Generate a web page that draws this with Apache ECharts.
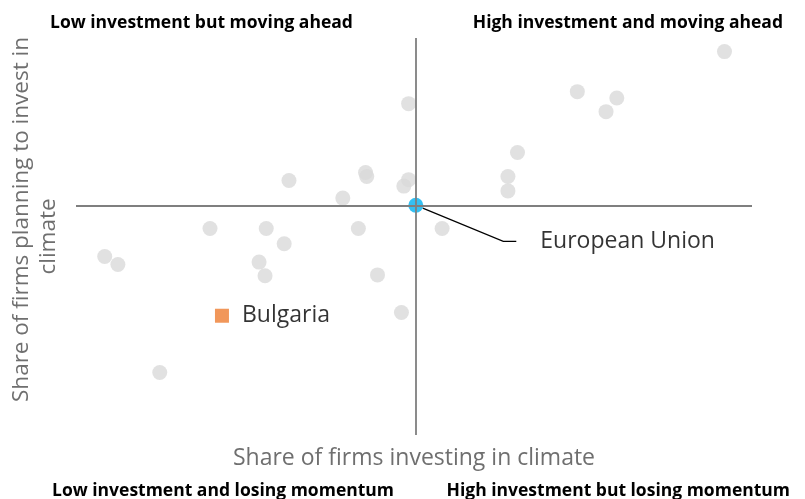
<!DOCTYPE html>
<html>
<head>
<meta charset="utf-8">
<script src="https://cdn.jsdelivr.net/npm/echarts@6/dist/echarts.min.js"></script>
<style>
html,body{margin:0;padding:0;background:#fff;}
#chart{width:805px;height:499px;}
</style>
</head>
<body>
<div id="chart"></div>
<script>
// other EU member states: share of firms investing / planning to invest in climate (%)
var othersX = [42.8, 49.2, 49.3, 52.8, 52.4, 47.3, 36.2, 40.9, 48.6, 42.4, 27.4, 28.5, 40.3,
               40.8, 50.2, 52.2, 32.0, 79.2, 66.9, 70.2, 69.3, 52.8, 61.9, 61.1, 61.1, 55.6];
var othersY = [61.8, 62.8, 62.3, 61.9, 61.1, 59.6, 55.8, 55.8, 55.8, 53.9, 52.3, 51.3, 51.6,
               49.9, 50.0, 45.3, 37.8, 77.9, 72.9, 72.1, 70.4, 71.4, 65.3, 62.3, 60.5, 55.8];
var euX = [53.4], euY = [58.7];
var bgX = [37.2], bgY = [44.9];
var euName = 'European Union', bgName = 'Bulgaria';
var xTitle = 'Share of firms investing in climate';
var yTitleLines = ['Share of firms planning to invest in', 'climate'];
var quadrants = ['Low investment but moving ahead', 'High investment and moving ahead',
                 'Low investment and losing momentum', 'High investment but losing momentum'];

(function(window){
    var font = '"Open Sans", sans-serif';

    function pair(xs, ys){
        return xs.map(function(x, i){ return [x, ys[i]]; });
    }

    function quadText(text, x, y, align){
        return {
            type: 'text', x: x, y: y,
            style: {
                text: text, fill: '#000', font: 'bold 17.5px ' + font,
                textAlign: align, textVerticalAlign: 'middle'
            }
        };
    }

    var chart = echarts.init(document.getElementById('chart'));
    var option = {
        animation: false,
        grid: {left: 74, right: 53, top: 38, bottom: 64},
        xAxis: {
            type: 'value', min: 25, max: 81.5,
            axisLine: {show: false}, axisTick: {show: false},
            axisLabel: {show: false}, splitLine: {show: false},
            name: xTitle, nameLocation: 'middle', nameGap: 12,
            nameTextStyle: {fontFamily: font, fontSize: 23, color: '#6f6f6f'}
        },
        yAxis: {
            type: 'value', min: 30, max: 79.6,
            axisLine: {show: false}, axisTick: {show: false},
            axisLabel: {show: false}, splitLine: {show: false},
            name: '{a|' + yTitleLines[0] + '}\n{b|' + yTitleLines[1] + '}',
            nameLocation: 'middle', nameGap: 14,
            nameTextStyle: {
                fontFamily: font, fontSize: 22.5, color: '#6f6f6f', lineHeight: 27,
                rich: {
                    a: {fontFamily: font, fontSize: 22.5, color: '#6f6f6f', lineHeight: 27, padding: [0, 0, 0, 34]},
                    b: {fontFamily: font, fontSize: 22.5, color: '#6f6f6f', lineHeight: 27}
                }
            }
        },
        graphic: [
            quadText(quadrants[0], 50, 23, 'left'),
            quadText(quadrants[1], 783, 23, 'right'),
            quadText(quadrants[2], 52, 491, 'left'),
            quadText(quadrants[3], 790, 491, 'right')
        ],
        series: [
            {
                type: 'scatter', data: pair(othersX, othersY),
                symbolSize: 15, itemStyle: {color: '#d9d9d9'}, z: 2,
                markLine: {
                    silent: true, symbol: 'none', animation: false,
                    label: {show: false},
                    lineStyle: {color: '#7f7f7f', width: 1.8, type: 'solid'},
                    data: [{xAxis: euX[0]}, {yAxis: euY[0]}]
                }
            },
            {
                type: 'scatter', data: pair(bgX, bgY),
                symbol: 'rect', symbolSize: 14, itemStyle: {color: '#ed7d31'}, z: 3,
                label: {
                    show: true, position: 'right', distance: 13, formatter: bgName,
                    fontFamily: font, fontSize: 23, color: '#000'
                }
            },
            {
                type: 'scatter', data: pair(euX, euY),
                symbolSize: 15, itemStyle: {color: '#00b0f0'}, z: 4,
                label: {
                    show: true, position: 'right', distance: 5,
                    formatter: '{g|}{t|' + euName + '}',
                    rich: {
                        g: {width: 24},
                        t: {fontFamily: font, fontSize: 23, color: '#000'}
                    }
                },
                labelLayout: {dx: 88, dy: 36},
                labelLine: {show: true, length2: 13, lineStyle: {color: '#000', width: 1.2}}
            }
        ]
    };
    chart.setOption(option);
})(window);
</script>
</body>
</html>
